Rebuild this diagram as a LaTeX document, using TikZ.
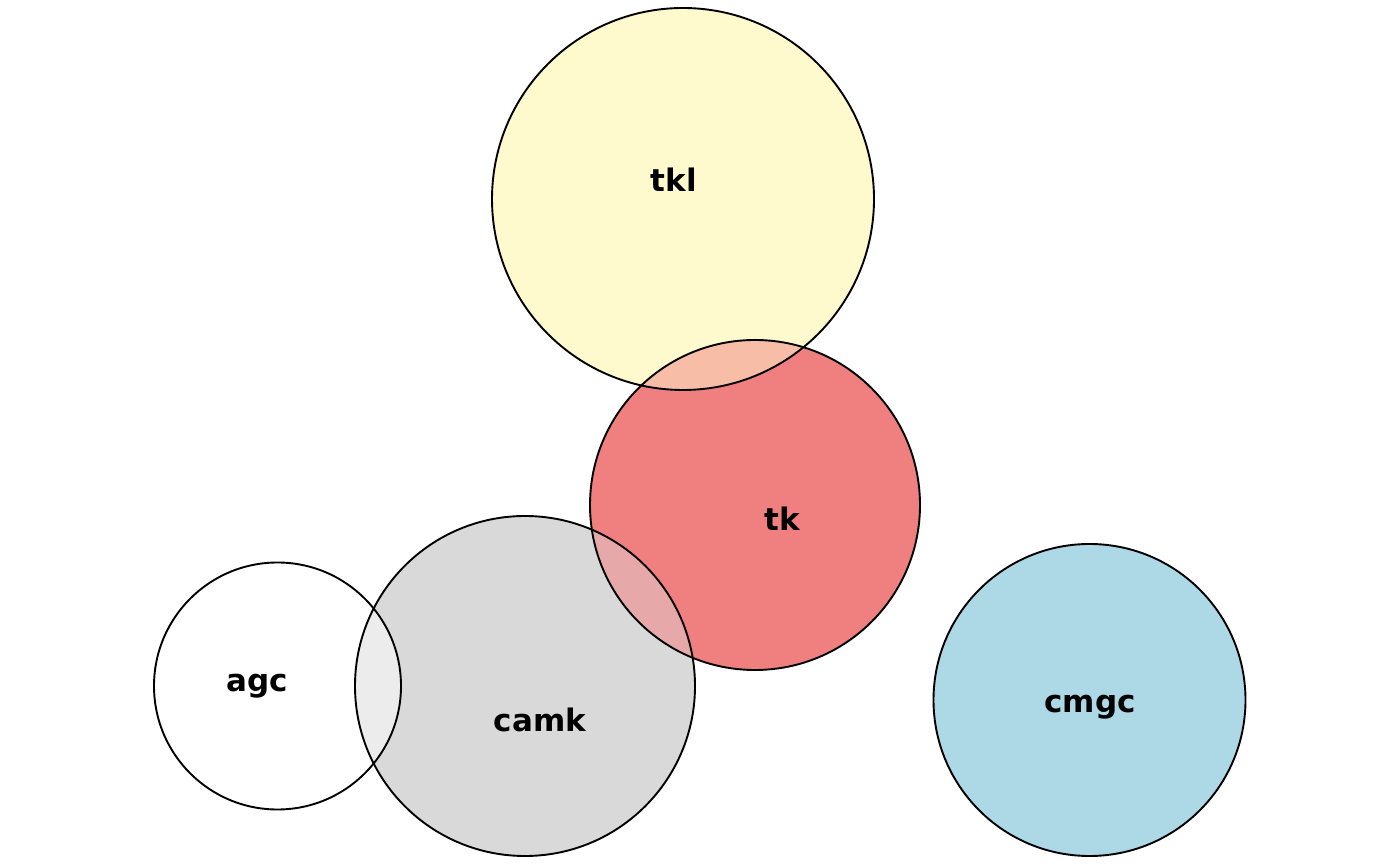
\documentclass[tikz,border=0pt]{standalone}
\usepackage{fontspec}
\setmainfont{DejaVu Sans}
\definecolor{ctkl}{HTML}{FFFACD}
\definecolor{ctk}{HTML}{F08080}
\definecolor{ccamk}{HTML}{D9D9D9}
\definecolor{cagc}{HTML}{FFFFFF}
\definecolor{ccmgc}{HTML}{ADD8E6}
\tikzset{
  setc/.style={circle, inner sep=0pt, outer sep=0pt},
  edge/.style={draw=black, line width=1.9pt},
  lab/.style={font=\bfseries\fontsize{31}{37}\selectfont, inner sep=0pt, anchor=base}
}
\begin{document}
\begin{tikzpicture}[x=1pt,y=1pt]
\useasboundingbox (0,0) rectangle (1400,865);
% fills
\node[setc, fill=ctkl, minimum size=382pt] (tkl) at (683,666) {};
\node[setc, fill=ctk, minimum size=330pt] (tk) at (755,360) {};
\node[setc, fill=ccamk, minimum size=340pt] (camk) at (525,179) {};
\node[setc, fill=cagc, minimum size=247pt] (agc) at (277.5,179) {};
\node[setc, fill=ccmgc, minimum size=312pt] (cmgc) at (1089.5,165) {};
% overlaps (50% mixes)
\begin{scope}
  \clip (tkl.center) circle (191);
  \fill[ctkl!50!ctk] (tk.center) circle (165);
\end{scope}
\begin{scope}
  \clip (camk.center) circle (170);
  \fill[ccamk!45!ctk] (tk.center) circle (165);
\end{scope}
\begin{scope}
  \clip (camk.center) circle (170);
  \fill[ccamk!50!cagc] (agc.center) circle (123.5);
\end{scope}
% outlines
\draw[edge] (tkl.center) circle (191);
\draw[edge] (tk.center) circle (165);
\draw[edge] (camk.center) circle (170);
\draw[edge] (agc.center) circle (123.5);
\draw[edge] (cmgc.center) circle (156);
% labels
\node[lab] (ltkl) at (674,673) {tkl};
\node[lab] (ltk) at (782,334) {tk};
\node[lab] (lagc) at (257,173) {agc};
\node[lab] (lcamk) at (540,133) {camk};
\node[lab] (lcmgc) at (1090,152) {cmgc};
\end{tikzpicture}
\end{document}
